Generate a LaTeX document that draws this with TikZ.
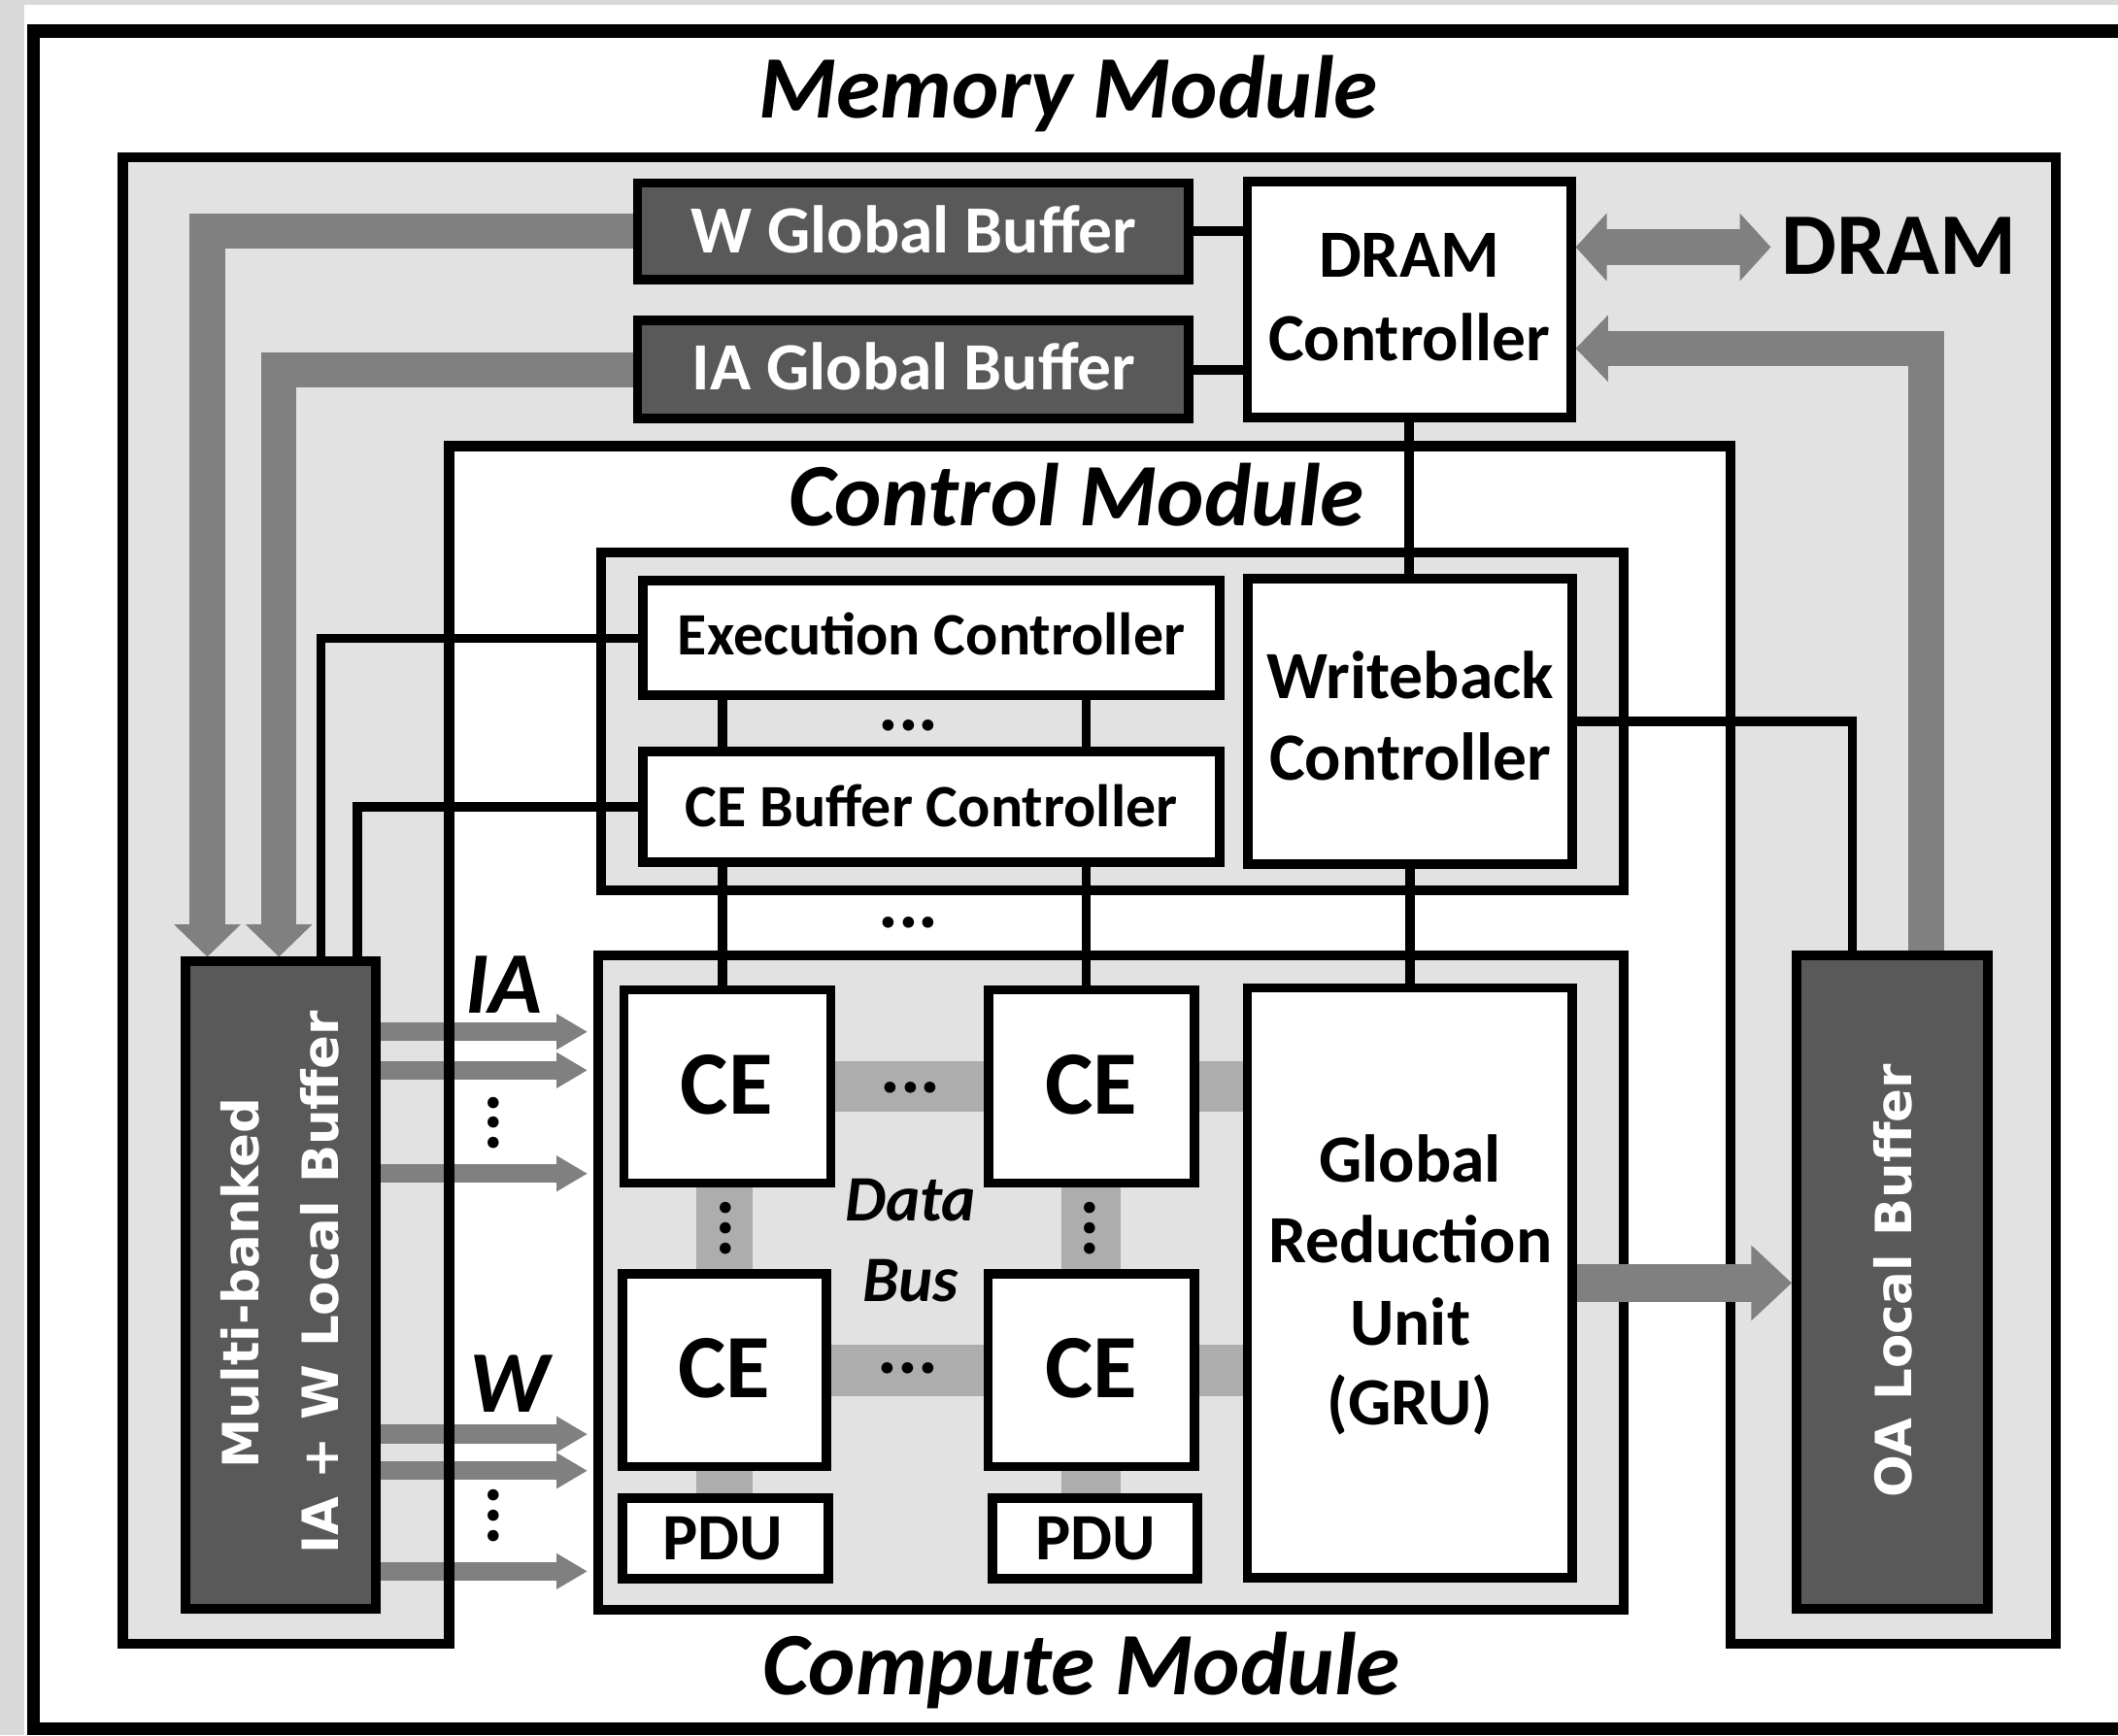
\documentclass[tikz,border=0pt]{standalone}
\usepackage{fontspec}
\setmainfont{Carlito}
\newfontfamily\vsans{DejaVu Sans}
\usetikzlibrary{arrows.meta}
\pgfdeclarelayer{back}
\pgfdeclarelayer{arrowl}
\pgfdeclarelayer{lines}
\pgfdeclarelayer{conn}
\pgfsetlayers{back,arrowl,lines,conn,main}
\newcommand{\myfs}[1]{\fontsize{#1pt}{#1pt}\selectfont}
\definecolor{margingray}{HTML}{D9D9D9}
\definecolor{modgray}{HTML}{E2E2E2}
\definecolor{bufgray}{HTML}{595959}
\definecolor{arrgray}{HTML}{808080}
\definecolor{busgray}{HTML}{ADADAD}
\begin{document}
\begin{tikzpicture}[x=1pt,y=-1pt,line join=miter,
 box/.style={draw=black,line width=7pt,fill=white,inner sep=0pt},
 darkbox/.style={box,fill=bufgray},
 modbox/.style={box,fill=modgray},
 wire/.style={draw=black,line width=6.8pt},
 bigarrow/.style={draw=arrgray,line width=26pt,-{Triangle[width=48pt,length=24pt]}},
 smallarrow/.style={draw=arrgray,line width=14pt,-{Triangle[width=25pt,length=23pt]}},
 txt/.style={anchor=base,inner sep=0pt,font=\bfseries\myfs{50}},
 ttl/.style={anchor=base,inner sep=0pt,font=\bfseries\itshape\myfs{66}},
 vtxt/.style={anchor=base,inner sep=0pt,rotate=90,text=white,font=\vsans\bfseries\myfs{37}},
 hdots/.style={anchor=base,inner sep=0pt,font=\bfseries\myfs{56}},
 vdots/.style={hdots,rotate=90},
]
\useasboundingbox (0,0) rectangle (1568,1285);

% ---------- boxes ----------
\node[darkbox,minimum width=408pt,minimum height=71.5pt] (wgb) at (676,171.25) {};
\node[darkbox,minimum width=408pt,minimum height=72.5pt] (iagb) at (676,273.75) {};
\node[box,minimum width=239.5pt,minimum height=174.5pt] (dramc) at (1043.25,221.75) {};
\node[box,minimum width=427pt,minimum height=85pt] (exec) at (689.5,472.5) {};
\node[box,minimum width=427pt,minimum height=82pt] (cebuf) at (689.5,597.5) {};
\node[box,minimum width=240pt,minimum height=211.5pt] (wb) at (1044,534.25) {};
\node[box,minimum width=153pt,minimum height=143pt] (ce11) at (538.5,804.5) {};
\node[box,minimum width=152.5pt,minimum height=143pt] (ce12) at (808.25,804.5) {};
\node[box,minimum width=151pt,minimum height=143pt] (ce21) at (536.5,1014.5) {};
\node[box,minimum width=153pt,minimum height=143pt] (ce22) at (808,1014.5) {};
\node[box,minimum width=152pt,minimum height=59.5pt] (pdu1) at (537,1139.25) {};
\node[box,minimum width=152pt,minimum height=59.5pt] (pdu2) at (810.5,1139.25) {};
\node[box,minimum width=240.5pt,minimum height=437pt] (gru) at (1043.75,950) {};
\node[darkbox,minimum width=140.5pt,minimum height=479pt] (multi) at (207.75,951.5) {};
\node[darkbox,minimum width=141.5pt,minimum height=483.5pt] (oabuf) at (1400.75,949.25) {};

% ---------- texts ----------
\node[ttl] (memt) at (791,87) {Memory Module};
\node[ttl] (ctlt) at (797,389) {Control Module};
\node[ttl] (cmpt) at (800.5,1255) {Compute Module};
\node[txt,text=white] (wgbt) at (676.5,187) {W Global Buffer};
\node[txt,text=white] (iagbt) at (676.5,289) {IA Global Buffer};
\node[txt] (dramt1) at (1043.25,205) {DRAM};
\node[txt] (dramt2) at (1043.25,267) {Controller};
\node[txt,font=\bfseries\myfs{65},anchor=base west] (dramx) at (1319,203) {DRAM};
\node[txt] (wbt1) at (1044,517) {Writeback};
\node[txt] (wbt2) at (1044,578) {Controller};
\node[txt,font=\bfseries\myfs{44.5}] (exect) at (689.5,485) {Execution Controller};
\node[txt,font=\bfseries\myfs{44.5}] (cebuft) at (689.5,612) {CE Buffer Controller};
\node[txt] (grut1) at (1044,875) {Global};
\node[txt] (grut2) at (1044,935) {Reduction};
\node[txt] (grut3) at (1044,996) {Unit};
\node[txt] (grut4) at (1044,1055) {(GRU)};
\node[txt,font=\bfseries\myfs{67}] (ce11t) at (538,825) {CE};
\node[txt,font=\bfseries\myfs{67}] (ce12t) at (808,825) {CE};
\node[txt,font=\bfseries\myfs{67}] (ce21t) at (536,1035) {CE};
\node[txt,font=\bfseries\myfs{67}] (ce22t) at (808,1035) {CE};
\node[txt,font=\bfseries\myfs{49}] (pdu1t) at (535,1155) {PDU};
\node[txt,font=\bfseries\myfs{49}] (pdu2t) at (811,1155) {PDU};
\node[txt,font=\bfseries\itshape\myfs{48}] (datat) at (674,904) {Data};
\node[txt,font=\bfseries\itshape\myfs{48}] (bust) at (674,964) {Bus};
\node[txt,font=\bfseries\itshape\myfs{65}] (ialbl) at (373,750) {IA};
\node[txt,font=\bfseries\itshape\myfs{65}] (wlbl) at (377,1046) {W};
\node[vtxt] (mbt1) at (191.5,950) {Multi-banked};
\node[vtxt] (mbt2) at (250.5,949.5) {IA + W Local Buffer};
\node[vtxt] (oat) at (1415,948.5) {OA Local Buffer};
% ellipses
\node[hdots] (dt1) at (672.5,541) {...};
\node[hdots] (dt2) at (672.5,687) {...};
\node[hdots] (dt3) at (674,809.5) {...};
\node[hdots] (dt4) at (672,1017) {...};
\node[vdots] (dt5) at (541,909.5) {...};
\node[vdots] (dt6) at (810.5,909.5) {...};
\node[vdots] (dt7) at (369.5,831.5) {...};
\node[vdots] (dt8) at (369,1122.5) {...};

% ---------- background ----------
\begin{pgfonlayer}{back}
\fill[margingray] (0,0) rectangle (1568,1285);
\fill[white] (18,3.5) rectangle (1568,1285);
\draw[line width=9.5pt] (1568,23) -- (25,23) -- (25,1280) -- (1568,1280);
\fill[modgray] (91,116.5) -- (1522,116.5) -- (1522,1217) -- (1281,1217) -- (1281,330.5)
  -- (332.5,330.5) -- (332.5,1217) -- (91,1217) -- cycle;
\end{pgfonlayer}

% ---------- gray data paths ----------
\begin{pgfonlayer}{arrowl}
\coordinate (wx) at (153.5,0);
\coordinate (iax) at (206.5,0);
\coordinate (rx) at (1426,0);
\coordinate (ry) at (0,258);
\coordinate (dtip) at (1311,183);
\draw[bigarrow] (wgb.west) -| (wx |- multi.north);
\draw[bigarrow] (iagb.west) -| (iax |- multi.north);
\draw[bigarrow] (rx |- oabuf.north) |- (dramc.east |- ry);
\draw[draw=arrgray,line width=26pt,{Triangle[width=49pt,length=23pt]}-{Triangle[width=49pt,length=23pt]}]
  (dramc.east |- dtip) -- (dtip);
\foreach \yy [count=\i] in {764,792.5,869,1062,1089,1163.5} {
  \coordinate (sa\i) at (435,\yy);
  \draw[smallarrow] (multi.east |- sa\i) -- (sa\i);
}
\end{pgfonlayer}

% ---------- module outlines ----------
\begin{pgfonlayer}{lines}
\draw[line width=7.5pt] (91,116.5) -- (1522,116.5) -- (1522,1217) -- (1281,1217) -- (1281,330.5)
  -- (332.5,330.5) -- (332.5,1217) -- (91,1217) -- cycle;
\node[modbox,minimum width=757pt,minimum height=250.5pt] (ctrlbox) at (823.5,534.25) {};
\node[modbox,minimum width=759pt,minimum height=484.5pt] (compbox) at (822.5,949.75) {};
\end{pgfonlayer}

% ---------- bus and wires ----------
\begin{pgfonlayer}{conn}
\draw[busgray,line width=37pt] (ce11.center) -- (ce11.center -| gru.center);
\draw[busgray,line width=38pt] (ce21.center) -- (ce21.center -| gru.center);
\draw[busgray,line width=42pt] (ce21.center |- ce11.center) -- (ce21.center |- pdu1.center);
\draw[busgray,line width=44pt] (ce22.center |- ce12.center) -- (ce22.center |- pdu2.center);
\coordinate (c1x) at (535,0);
\coordinate (c2x) at (804,0);
\coordinate (e1x) at (237.5,0);
\coordinate (e2x) at (264.5,0);
\coordinate (wbx) at (1371.5,0);
\draw[wire] (wgb.east) -- (wgb.east -| dramc.west);
\draw[wire] (iagb.east) -- (iagb.east -| dramc.west);
\draw[wire] (dramc.south) -- (dramc.south |- wb.north);
\draw[wire] (c1x |- exec.south) -- (c1x |- cebuf.north);
\draw[wire] (c2x |- exec.south) -- (c2x |- cebuf.north);
\draw[wire] (c1x |- cebuf.south) -- (c1x |- ce11.north);
\draw[wire] (c2x |- cebuf.south) -- (c2x |- ce12.north);
\draw[wire] (wb.south) -- (wb.south |- gru.north);
\draw[wire] (exec.west) -| (e1x |- multi.north);
\draw[wire] (cebuf.west) -| (e2x |- multi.north);
\draw[wire] (wb.east) -| (wbx |- oabuf.north);
\draw[draw=arrgray,line width=28pt,-{Triangle[width=54pt,length=30pt]}] (gru.east) -- (oabuf.west |- gru.east);
\end{pgfonlayer}
\end{tikzpicture}
\end{document}
